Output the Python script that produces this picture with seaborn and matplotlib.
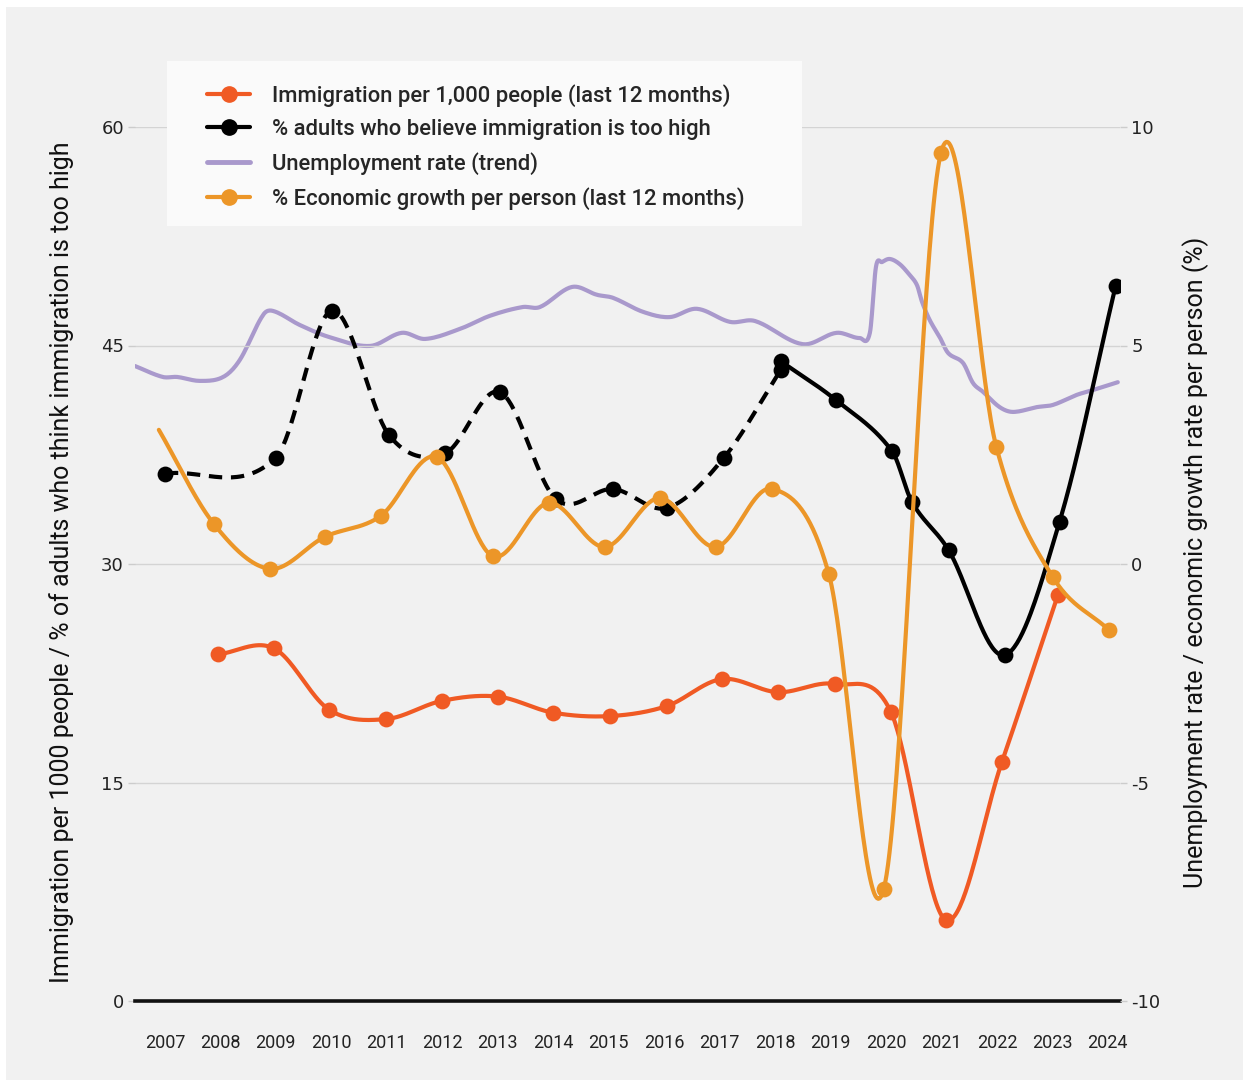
import numpy as np
import matplotlib.pyplot as plt
import seaborn as sns
from matplotlib.lines import Line2D
from matplotlib.patches import Rectangle

# x positions are fractional years (data dated within each year)
years = list(range(2007, 2025))

# immigration per 1,000 people, last 12 months (left axis)
imm_x = [2007.96, 2008.97, 2009.96, 2010.98, 2011.99, 2013.0, 2013.99, 2015.02,
         2016.05, 2017.04, 2018.05, 2019.08, 2020.09, 2021.08, 2022.09, 2023.1]
imm_y = [23.8, 24.2, 20.0, 19.35, 20.6, 20.9, 19.8, 19.56,
         20.25, 22.1, 21.2, 21.76, 19.84, 5.56, 16.4, 27.87]

# % adults who think immigration is too high (left axis), old survey dashed
att_old_x = [2007.0, 2009.0, 2010.01, 2011.04, 2012.05, 2013.04, 2014.05,
             2015.08, 2016.05, 2017.08, 2018.1]
att_old_y = [36.2, 37.3, 47.4, 38.85, 37.6, 41.8, 34.45, 35.15, 33.85, 37.3, 43.3]
att_new_x = [2018.1, 2019.1, 2020.11, 2020.47, 2021.13, 2022.14, 2023.13, 2024.14]
att_new_y = [43.93, 41.25, 37.75, 34.25, 30.95, 23.75, 32.9, 49.07]

# unemployment rate trend (right axis)
unemp_x = [2006.46, 2006.96, 2007.22, 2007.63, 2008.05, 2008.35, 2008.77, 2008.95,
           2009.43, 2009.97, 2010.7, 2011.27, 2011.69, 2012.32, 2012.86, 2013.45,
           2013.76, 2014.34, 2014.79, 2015.08, 2015.62, 2016.1, 2016.59, 2017.19,
           2017.64, 2018.5, 2019.11, 2019.53, 2019.71, 2019.82, 2019.93, 2020.07,
           2020.25, 2020.43, 2020.56, 2020.65, 2020.79, 2020.97, 2021.12, 2021.39,
           2021.57, 2021.75, 2022.05, 2022.29, 2022.72, 2023.01, 2023.44, 2023.73,
           2024.18]
unemp_y = [4.53, 4.28, 4.28, 4.19, 4.28, 4.67, 5.70, 5.79,
           5.47, 5.19, 4.99, 5.29, 5.15, 5.38, 5.68, 5.88,
           5.88, 6.34, 6.16, 6.09, 5.77, 5.65, 5.84, 5.54,
           5.56, 5.03, 5.29, 5.17, 5.29, 6.80, 6.91, 6.98,
           6.86, 6.61, 6.38, 6.0, 5.58, 5.19, 4.83, 4.60,
           4.14, 3.94, 3.59, 3.48, 3.59, 3.64, 3.87, 3.98,
           4.16]

# % economic growth per person, last 12 months (right axis)
gdp_x = [2006.89, 2007.88, 2008.89, 2009.88, 2010.89, 2011.9, 2012.91, 2013.92, 2014.93,
         2015.92, 2016.93, 2017.94, 2018.97, 2019.96, 2020.99, 2021.99, 2023.01, 2024.02]
gdp_y = [3.07, 0.92, -0.11, 0.62, 1.10, 2.45, 0.18, 1.40, 0.39,
         1.51, 0.39, 1.72, -0.23, -7.44, 9.40, 2.68, -0.30, -1.51]

labels = ["Immigration per 1,000 people (last 12 months)",
          "% adults who believe immigration is too high",
          "Unemployment rate (trend)",
          "% Economic growth per person (last 12 months)"]

RED = "#f05a24"
ORANGE = "#ec9628"
PURPLE = "#a999cc"
BG = "#f1f1f1"
FONT = ["Roboto", "DejaVu Sans"]


def smooth(x, y, n=40):
    # cubic hermite through the points, finite difference tangents
    x = np.asarray(x, float)
    y = np.asarray(y, float)
    m = np.empty_like(y)
    m[1:-1] = (y[2:] - y[:-2]) / (x[2:] - x[:-2])
    m[0] = (y[1] - y[0]) / (x[1] - x[0])
    m[-1] = (y[-1] - y[-2]) / (x[-1] - x[-2])
    xs, ys = [], []
    for i in range(len(x) - 1):
        h = x[i + 1] - x[i]
        t = np.linspace(0, 1, n, endpoint=(i == len(x) - 2))
        h00 = 2 * t**3 - 3 * t**2 + 1
        h10 = t**3 - 2 * t**2 + t
        h01 = -2 * t**3 + 3 * t**2
        h11 = t**3 - t**2
        xs.append(x[i] + t * h)
        ys.append(h00 * y[i] + h10 * h * m[i] + h01 * y[i + 1] + h11 * h * m[i + 1])
    return np.concatenate(xs), np.concatenate(ys)


sns.set_theme(style="white")
plt.rcParams["font.family"] = ["DejaVu Sans"]
plt.rcParams["axes.unicode_minus"] = False

fig = plt.figure(figsize=(12.49, 10.86), dpi=100, facecolor="white")
fig.patches.append(Rectangle((6 / 1249, 6 / 1086), 1237 / 1249, 1073 / 1086,
                             transform=fig.transFigure, facecolor=BG, edgecolor="none", zorder=-10))
# legend box
fig.patches.append(Rectangle((167 / 1249, 1 - 226 / 1086), 635 / 1249, 165 / 1086,
                             transform=fig.transFigure, facecolor="#fafafa", edgecolor="none", zorder=4))

ax = fig.add_axes([135 / 1249, 1 - 1001 / 1086, 985 / 1249, 874 / 1086])
ax_u = ax.twinx()
ax2 = ax.twinx()
for a in (ax, ax_u, ax2):
    a.patch.set_visible(False)
ax_u.set_zorder(0)
ax.set_zorder(1)
ax2.set_zorder(2)

LW = 3.0
MS = 130

# unemployment (bottom layer)
xs, ys = smooth(unemp_x, unemp_y, n=12)
sns.lineplot(x=xs, y=ys, ax=ax_u, color=PURPLE, lw=LW, sort=False, estimator=None)

# left axis series
xs, ys = smooth(imm_x, imm_y)
sns.lineplot(x=xs, y=ys, ax=ax, color=RED, lw=LW, sort=False, estimator=None)
sns.scatterplot(x=imm_x, y=imm_y, ax=ax, color=RED, s=MS, linewidth=0, zorder=3)

xs, ys = smooth(att_old_x, att_old_y)
sns.lineplot(x=xs, y=ys, ax=ax, color="black", lw=LW, sort=False, estimator=None,
             linestyle=(0, (3.2, 2.1)))
sns.scatterplot(x=att_old_x, y=att_old_y, ax=ax, color="black", s=MS, linewidth=0, zorder=3)
xs, ys = smooth(att_new_x, att_new_y)
sns.lineplot(x=xs, y=ys, ax=ax, color="black", lw=LW, sort=False, estimator=None)
sns.scatterplot(x=att_new_x, y=att_new_y, ax=ax, color="black", s=MS, linewidth=0, zorder=3)

# economic growth (top layer)
xs, ys = smooth(gdp_x, gdp_y)
sns.lineplot(x=xs, y=ys, ax=ax2, color=ORANGE, lw=LW, sort=False, estimator=None)
sns.scatterplot(x=gdp_x[1:], y=gdp_y[1:], ax=ax2, color=ORANGE, s=MS, linewidth=0, zorder=3)

ax.set_xlim(2006.46, 2024.22)
ax.set_ylim(0, 60)
ax2.set_ylim(-10, 10)
ax_u.set_ylim(-10, 10)
ax_u.axis("off")

ax.set_yticks([0, 15, 30, 45, 60])
ax2.set_yticks([-10, -5, 0, 5, 10])
ax.set_xticks(years)
ax.set_xticklabels([str(y) for y in years], family=FONT, fontsize=13, color="#222222")

ax.grid(axis="y", color="#d4d4d4", lw=1)
ax.grid(axis="x", visible=False)
ax2.grid(False)
ax_u.grid(False)
for a in (ax, ax2):
    for s in a.spines.values():
        s.set_visible(False)
ax.spines["bottom"].set_visible(True)
ax.spines["bottom"].set_color("#111111")
ax.spines["bottom"].set_linewidth(2.6)

ax.tick_params(axis="x", length=0, pad=24)
ax.tick_params(axis="y", length=5, width=1, color="#cccccc", pad=3, labelsize=13, labelcolor="#222222")
ax2.tick_params(axis="y", length=5, width=1, color="#cccccc", pad=3, labelsize=13, labelcolor="#222222")
ax.set_xlabel("")
ax.set_ylabel("")
ax2.set_ylabel("")

fig.text(62 / 1249, 1 - 562 / 1086,
         "Immigration per 1000 people / % of adults who think immigration is too high",
         rotation=90, ha="center", va="center", fontsize=18, family=FONT, color="#111111")
fig.text(1196 / 1249, 1 - 562 / 1086,
         "Unemployment rate / economic growth rate per person (%)",
         rotation=90, ha="center", va="center", fontsize=18, family=FONT, color="#111111")

handles = [
    Line2D([], [], color=RED, lw=LW, marker="o", markersize=11),
    Line2D([], [], color="black", lw=LW, marker="o", markersize=11),
    Line2D([], [], color=PURPLE, lw=LW + 0.5),
    Line2D([], [], color=ORANGE, lw=LW, marker="o", markersize=11),
]
leg = fig.legend(handles, labels, loc="upper left", bbox_to_anchor=(207 / 1249, 1 - 84 / 1086),
                 frameon=False, prop={"family": FONT, "size": 15.8, "weight": "medium"},
                 handlelength=1.96, handletextpad=1.0, labelspacing=0.55, borderpad=0,
                 borderaxespad=0)
leg.set_zorder(5)

fig.savefig("out.png", dpi=100, facecolor="white")
